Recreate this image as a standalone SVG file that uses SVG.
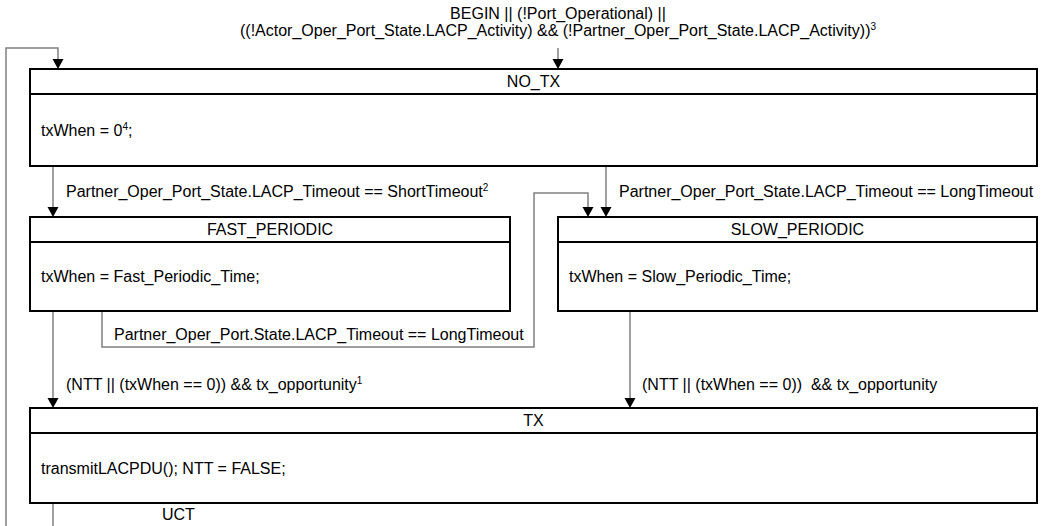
<svg xmlns="http://www.w3.org/2000/svg" width="1043" height="526" viewBox="0 0 1043 526">
<defs>
<style>
text{font-family:"Liberation Sans",Arial,sans-serif;font-size:16px;fill:#000}
.sup{font-size:10px}
.box{fill:#fff;stroke:#000;stroke-width:2}
.div{stroke:#000;stroke-width:2}
.conn{fill:none;stroke:#808080;stroke-width:1.5}
.head{fill:#000}
.mid{text-anchor:middle}
</style>
</defs>
<rect width="1043" height="526" fill="#fff"/>
<g id="connectors">
<path class="conn" d="M558,48 V59"/>
<path class="head" d="M552.5,59 H563.5 L558,69 Z"/>
<path class="conn" d="M53,526 V503"/>
<path class="conn" d="M6,526 V48 H58 V59"/>
<path class="head" d="M52.5,59 H63.5 L58,69 Z"/>
<path class="conn" d="M53,166 V207"/>
<path class="head" d="M47.5,207 H58.5 L53,217 Z"/>
<path class="conn" d="M606,166 V207"/>
<path class="head" d="M600.5,207 H611.5 L606,217 Z"/>
<path class="conn" d="M102,311 V347 H534 V193 H588 V207"/>
<path class="head" d="M582.5,207 H593.5 L588,217 Z"/>
<path class="conn" d="M53,311 V398"/>
<path class="head" d="M47.5,398 H58.5 L53,408 Z"/>
<path class="conn" d="M630,311 V398"/>
<path class="head" d="M624.5,398 H635.5 L630,408 Z"/>
<text x="558" y="19" class="mid">BEGIN || (!Port_Operational) ||</text>
<text x="558" y="36" class="mid">((!Actor_Oper_Port_State.LACP_Activity) &amp;&amp; (!Partner_Oper_Port_State.LACP_Activity))<tspan class="sup" dy="-6">3</tspan></text>
<text x="66" y="197">Partner_Oper_Port_State.LACP_Timeout == ShortTimeout<tspan class="sup" dy="-6">2</tspan></text>
<text x="619" y="197">Partner_Oper_Port_State.LACP_Timeout == LongTimeout</text>
<text x="114" y="340">Partner_Oper_Port.State.LACP_Timeout == LongTimeout</text>
<text x="66" y="390">(NTT || (txWhen == 0)) &amp;&amp; tx_opportunity<tspan class="sup" dy="-6">1</tspan></text>
<text x="642" y="390" xml:space="preserve">(NTT || (txWhen == 0))  &amp;&amp; tx_opportunity</text>
<text x="162" y="520">UCT</text>
</g>
<g id="NO_TX">
<rect class="box" x="30" y="69" width="1007" height="97"/>
<line class="div" x1="30" y1="94" x2="1037" y2="94"/>
<text x="533.5" y="87" class="mid">NO_TX</text>
<text x="41" y="136">txWhen = 0<tspan class="sup" dy="-6">4</tspan><tspan dy="6">;</tspan></text>
</g>
<g id="FAST_PERIODIC">
<rect class="box" x="30" y="217" width="480" height="94"/>
<line class="div" x1="30" y1="242" x2="510" y2="242"/>
<text x="270" y="235" class="mid">FAST_PERIODIC</text>
<text x="41" y="282">txWhen = Fast_Periodic_Time;</text>
</g>
<g id="SLOW_PERIODIC">
<rect class="box" x="558" y="217" width="479" height="94"/>
<line class="div" x1="558" y1="242" x2="1037" y2="242"/>
<text x="797.5" y="235" class="mid">SLOW_PERIODIC</text>
<text x="569" y="282">txWhen = Slow_Periodic_Time;</text>
</g>
<g id="TX">
<rect class="box" x="30" y="408" width="1007" height="95"/>
<line class="div" x1="30" y1="433" x2="1037" y2="433"/>
<text x="533.5" y="426" class="mid">TX</text>
<text x="41" y="474">transmitLACPDU(); NTT = FALSE;</text>
</g>
</svg>
